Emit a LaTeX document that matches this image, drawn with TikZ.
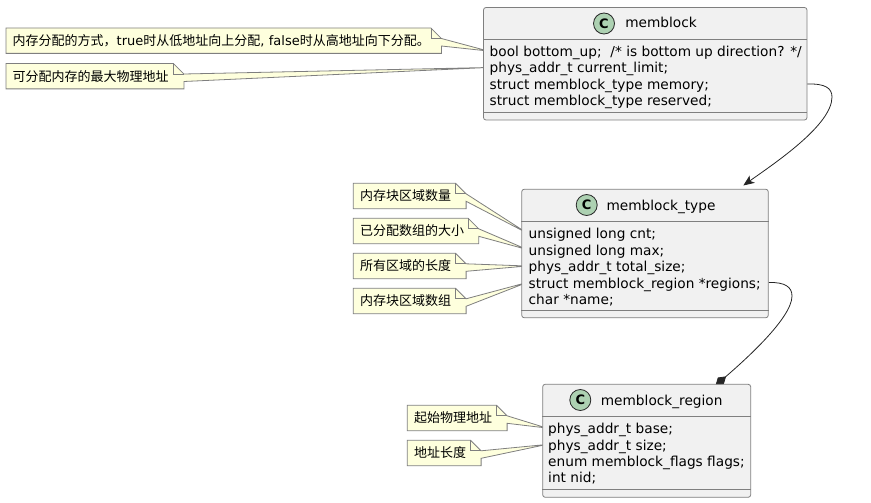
\documentclass[tikz,border=0pt]{standalone}
\usepackage{fontspec}
\setmainfont{DejaVu Sans}
\newfontfamily\cjk{Noto Sans CJK SC}
\usetikzlibrary{positioning, calc, backgrounds, arrows.meta}
\definecolor{classfill}{HTML}{F1F1F1}
\definecolor{classline}{HTML}{7F7F7F}
\definecolor{notefill}{HTML}{FEFFDD}
\definecolor{spotfill}{HTML}{ADD1B2}

\begin{document}
\begin{tikzpicture}[x=1pt, y=-1pt,
  classbox/.style={draw = classline, fill = classfill, rounded corners = 2.5pt, inner sep = 0pt, line width = 0.8pt},
  rule/.style={draw = classline, line width = 0.8pt},
  member/.style={anchor = west, inner sep = 1.5pt, font = \fontsize{13.7}{14}\selectfont, text height = 13pt, text depth = 2pt},
  title/.style={font = \fontsize{13.7}{14}\selectfont, inner sep = 0pt, text height = 12pt, text depth = 2pt},
  spot/.style={circle, draw = black!85, fill = spotfill, minimum size = 21pt, inner sep = 0pt, line width = 0.8pt, font = \fontsize{13}{14}\bfseries\selectfont},
  note/.style={anchor = north west, minimum height = 25pt, inner ysep = 0pt, inner xsep = 6.5pt, align = left, font = \fontsize{13}{14}\selectfont},
  relation/.style={draw = black!85, line width = 0.8pt}]
  \useasboundingbox (0,0) rectangle (871,503);

  % classes
  \node [classbox, minimum width = 323.5pt, minimum height = 112.5pt] (memblock) at (645.25,63.75) {};
  \draw [rule] (memblock.west |- 0,39.5) -- (memblock.east |- 0,39.5);
  \draw [rule] (memblock.west |- 0,112.5) -- (memblock.east |- 0,112.5);
  \node [spot] (memblock_spot) at (604,23.5) {C};
  \node [title] (memblock_title) at (661,23) {memblock};
  \node [member] (bottom_up) at (488,51) {bool bottom\_up;\ \ /* is bottom up direction? */};
  \node [member] (current_limit) at (488,67.5) {phys\_addr\_t current\_limit;};
  \node [member] (memory) at (488,84) {struct memblock\_type memory;};
  \node [member] (reserved) at (488,100) {struct memblock\_type reserved;};

  \node [classbox, minimum width = 246.5pt, minimum height = 128.5pt] (memblock_type) at (645,253.5) {};
  \draw [rule] (memblock_type.west |- 0,221.7) -- (memblock_type.east |- 0,221.7);
  \draw [rule] (memblock_type.west |- 0,310) -- (memblock_type.east |- 0,310);
  \node [spot] (type_spot) at (586.7,205) {C};
  \node [title] (type_title) at (661,205) {memblock\_type};
  \node [member] (cnt) at (527,233) {unsigned long cnt;};
  \node [member] (max) at (527,249.5) {unsigned long max;};
  \node [member] (total_size) at (527,266) {phys\_addr\_t total\_size;};
  \node [member] (regions) at (527,282.5) {struct memblock\_region *regions;};
  \node [member] (name) at (527,299) {char *name;};

  \node [classbox, minimum width = 208pt, minimum height = 113pt] (memblock_region) at (646.7,440.8) {};
  \draw [rule] (memblock_region.west |- 0,416.7) -- (memblock_region.east |- 0,416.7);
  \draw [rule] (memblock_region.west |- 0,489) -- (memblock_region.east |- 0,489);
  \node [spot] (region_spot) at (580.3,400) {C};
  \node [title] (region_title) at (661.7,400) {memblock\_region};
  \node [member] (base) at (546.5,428) {phys\_addr\_t base;};
  \node [member] (size) at (546.5,444.5) {phys\_addr\_t size;};
  \node [member] (flags) at (546.5,461) {enum memblock\_flags flags;};
  \node [member] (nid) at (546.5,477) {int nid;};

  % notes
  \node [note, text width = 422pt] (note_bottom_up) at (6,28) {{\cjk 内存分配的方式，}true{\cjk 时从低地址向上分配}, false{\cjk 时从高地址向下分配。}};
  \node [note, text width = 164.5pt] (note_limit) at (6,63.5) {\cjk 可分配内存的最大物理地址};
  \node [note, text width = 99.4pt] (note_cnt) at (353.3,183.3) {\cjk 内存块区域数量};
  \node [note, text width = 112pt] (note_max) at (353.3,218.3) {\cjk 已分配数组的大小};
  \node [note, text width = 99.4pt] (note_total) at (353.3,253.3) {\cjk 所有区域的长度};
  \node [note, text width = 99.4pt] (note_regions) at (353.3,288.3) {\cjk 内存块区域数组};
  \node [note, text width = 86.4pt] (note_base) at (407.3,405.3) {\cjk 起始物理地址};
  \node [note, text width = 60.4pt] (note_size) at (407.3,440.3) {\cjk 地址长度};

  \begin{scope}[on background layer]
    \foreach \n/\m in {note_bottom_up/bottom_up, note_limit/current_limit, note_cnt/cnt, note_max/max, note_total/total_size, note_regions/regions, note_base/base, note_size/size} {
      \draw [rule, fill = notefill] (\n.north west) -- ($(\n.north east)+(-10.5,0)$) -- ($(\n.north east)+(0,10.5)$) -- (\m.west) -- ($(\n.north east)+(0,18)$) -- (\n.south east) -- (\n.south west) -- cycle;
      \draw [rule] ($(\n.north east)+(-10.5,0)$) -- ($(\n.north east)+(-10.5,10.5)$) -- ($(\n.north east)+(0,10.5)$);
    }
  \end{scope}

  % edges
  \coordinate (type_in) at (743.3,185.5);
  \coordinate (region_in) at (715.5,385.5);
  \draw [relation, -{Stealth[length = 11pt, width = 9pt, inset = 3pt]}] (memblock.east |- memory) .. controls (825,83.5) and (832,88) .. (832,97) .. controls (832,125) and (775,163) .. (type_in);
  \begin{scope}[on background layer]
    \draw [relation, -{Diamond[length = 14pt, width = 9pt]}] (memblock_type.east |- regions) .. controls (785,282) and (792,287) .. (792,296) .. controls (792,318) and (745,360) .. (region_in);
  \end{scope}
\end{tikzpicture}
\end{document}
